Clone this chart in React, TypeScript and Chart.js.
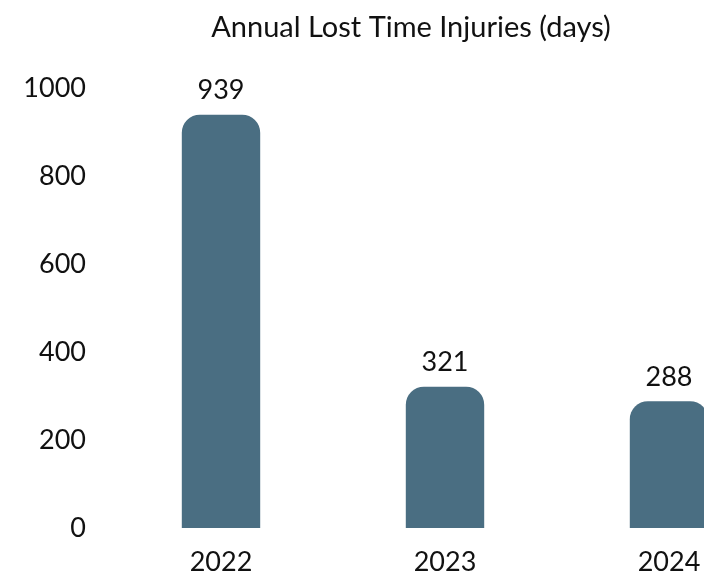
import React, { useEffect, useRef } from "react";
import { Chart, registerables } from "chart.js";

Chart.register(...registerables);

const categories = ["2022", "2023", "2024"];
const lostDays = [939, 321, 288];
const yTicks = [0, 200, 400, 600, 800, 1000];
const chartTitle = "Annual Lost Time Injuries (days)";

const FONT = "Lato, 'Open Sans', sans-serif";
const BAR_COLOR = "#4a6e82";
const TEXT_COLOR = "#111111";

const valueLabels = {
  id: "valueLabels",
  afterDatasetsDraw(chart: any) {
    const ctx = chart.ctx;
    const meta = chart.getDatasetMeta(0);
    ctx.save();
    ctx.font = `27px ${FONT}`;
    ctx.fillStyle = TEXT_COLOR;
    ctx.textAlign = "center";
    ctx.textBaseline = "middle";
    meta.data.forEach((bar: any, i: number) => {
      ctx.fillText(String(lostDays[i]), bar.x, bar.y - 24);
    });
    ctx.restore();
  },
};

// centre the title over the whole canvas rather than the padded box
const titleCentre = {
  id: "titleCentre",
  afterLayout(chart: any) {
    const tb = chart.titleBlock;
    if (tb) {
      tb.left = 0;
      tb.right = chart.width;
    }
  },
};

export default function App() {
  const ref = useRef<HTMLCanvasElement | null>(null);
  useEffect(() => {
    if (!ref.current) return;
    const chart = new Chart(ref.current, {
      type: "bar",
      data: {
        labels: categories,
        datasets: [
          {
            data: lostDays,
            backgroundColor: BAR_COLOR,
            borderRadius: 18,
            borderSkipped: "start",
            barPercentage: 0.35,
            categoryPercentage: 1,
          },
        ],
      },
      options: {
        animation: false,
        responsive: false,
        maintainAspectRatio: false,
        layout: { padding: { left: 0, right: 33, top: 0, bottom: 0 } },
        plugins: {
          legend: { display: false },
          tooltip: { enabled: false },
          title: {
            display: true,
            text: chartTitle,
            color: TEXT_COLOR,
            font: { family: FONT, size: 29, weight: "normal" },
            padding: { top: 10, bottom: 43 },
          },
        },
        scales: {
          x: {
            grid: { display: false },
            border: { display: false },
            afterFit: (scale: any) => {
              scale.height = 72;
            },
            ticks: {
              color: TEXT_COLOR,
              font: { family: FONT, size: 27 },
              padding: 10,
            },
          },
          y: {
            min: 0,
            max: 1000,
            afterBuildTicks: (scale: any) => {
              scale.ticks = yTicks.map((v) => ({ value: v }));
            },
            afterFit: (scale: any) => {
              scale.width = 101;
            },
            grid: { display: false },
            border: { display: false },
            ticks: {
              color: TEXT_COLOR,
              font: { family: FONT, size: 27 },
              padding: 15,
              callback: (v: any) => String(v),
            },
          },
        },
      },
      plugins: [valueLabels, titleCentre],
    });
    return () => chart.destroy();
  }, []);

  return (
    <div
      style={{
        position: "fixed",
        left: 0,
        top: 0,
        width: 704,
        height: 576,
        overflow: "hidden",
        background: "#fff",
      }}
    >
      <canvas
        ref={ref}
        width={806}
        height={600}
        style={{ position: "absolute", left: 8, top: 0, width: 806, height: 600 }}
      />
    </div>
  );
}
